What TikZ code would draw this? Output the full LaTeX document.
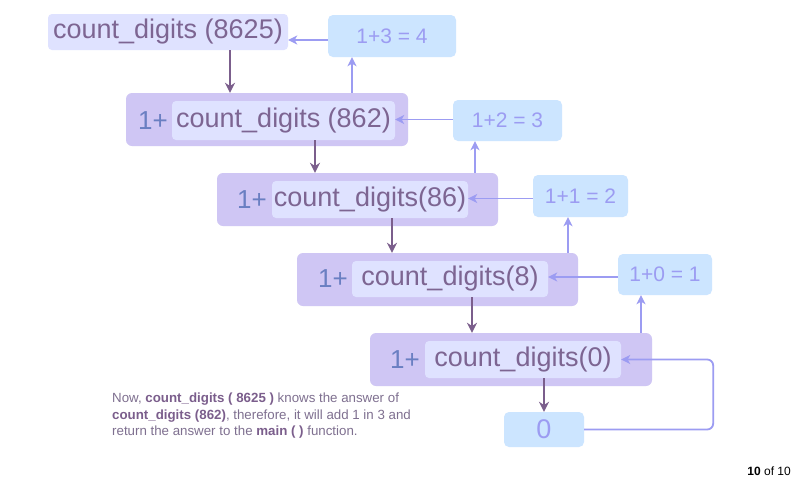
\documentclass[tikz,border=0pt]{standalone}
\usepackage{fontspec}
\setmainfont{Liberation Sans}
\usetikzlibrary{arrows.meta,calc}
\definecolor{cTimNgoai}{HTML}{CFC6F4}
\definecolor{cTimTrong}{HTML}{DFE2FF}
\definecolor{cXanhKq}{HTML}{CCE5FF}
\definecolor{cTenHam}{HTML}{7D6592}
\definecolor{cCong}{HTML}{6A7FC2}
\definecolor{cKetQua}{HTML}{9C9CF2}
\definecolor{cMuiDam}{HTML}{7B5E8C}
\definecolor{cChuGhi}{HTML}{7F7090}
\def\Ltop{count\_digits (8625)}
\def\Lcall{count\_digits (862)}
\def\Lcallb{count\_digits(86)}
\def\Lcallc{count\_digits(8)}
\def\Lcalld{count\_digits(0)}

\begin{document}
\begin{tikzpicture}[x=1pt, y=-1pt,
  hopngoai/.style={
    fill=cTimNgoai, rounded corners=6pt, inner sep=0pt,
    minimum width=281pt, minimum height=53pt
  },
  hoptrong/.style={
    fill=cTimTrong, rounded corners=4pt, inner sep=0pt,
    minimum width=196pt, minimum height=37pt,
    font=\fontsize{27}{29}\selectfont, text=cTenHam
  },
  hopcong/.style={
    inner sep=0pt, font=\fontsize{26}{29}\selectfont, text=cCong
  },
  hopkq/.style={
    fill=cXanhKq, rounded corners=5pt, inner sep=0pt,
    minimum height=41pt, font=\fontsize{21}{24}\selectfont, text=cKetQua
  },
  muidam/.style={draw=cMuiDam, line width=2.8pt, -{Stealth[length=10pt, width=10pt]}},
  muinhat/.style={draw=cKetQua, line width=1.8pt, -{Stealth[length=9pt, width=9pt, inset=2.5pt]}}
]

% ── Khung trang ──
\fill[white] (0,0) rectangle (793,480);
\useasboundingbox (0,0) rectangle (793,480);

% ── Loi goi dau tien ──
\node[hoptrong, minimum width=240pt, minimum height=36pt] (top) at (168,32) {\Ltop};

% ── Bon tang de quy: hop ngoai, hop trong, chu '1+' ──
\node[hopngoai, minimum width=282pt] (b2) at (267,119.5) {};
\node[hoptrong, minimum width=223pt, minimum height=39pt] (in2) at (283.5,120.5) {\Lcall};
\node[hopcong] (p2) at (153,120.5) {1+};

\node[hopngoai] (b3) at (357.5,199.5) {};
\node[hoptrong] (in3) at (370,199.5) {\Lcallb};
\node[hopcong] (p3) at (252,199.5) {1+};

\node[hopngoai] (b4) at (437.5,279.5) {};
\node[hoptrong, minimum height=36pt] (in4) at (450,279) {\Lcallc};
\node[hopcong] (p4) at (333,279) {1+};

\node[hopngoai, minimum width=282pt] (b5) at (511,359.5) {};
\node[hoptrong] (in5) at (523,359.5) {\Lcalld};
\node[hopcong] (p5) at (405,359.5) {1+};

% ── Hop ket qua (xanh nhat) ──
\node[hopkq, minimum width=128pt, minimum height=42pt] (r4) at (392,36) {1+3 = 4};
\node[hopkq, minimum width=109pt] (r3) at (507.5,120.5) {1+2 = 3};
\node[hopkq, minimum width=95pt, minimum height=42pt] (r2) at (580.5,196) {1+1 = 2};
\node[hopkq, minimum width=94pt] (r1) at (665,274.5) {1+0 = 1};
\node[hopkq, minimum width=80pt, minimum height=35pt, font=\fontsize{27}{28}\selectfont] (r0) at (544,429.5) {0};

% ── Mui ten goi xuong ──
\draw[muidam] ([xshift=62pt]top.south) -- ([xshift=62pt]top.south |- b2.north);
\draw[muidam] ([xshift=31.5pt]in2.south) -- ([xshift=31.5pt]in2.south |- b3.north);
\draw[muidam] ([xshift=22pt]in3.south) -- ([xshift=22pt]in3.south |- b4.north);
\draw[muidam] ([xshift=22pt]in4.south) -- ([xshift=22pt]in4.south |- b5.north);
\draw[muidam] (in5.south -| r0.north) -- (r0.north);

% ── Mui ten tra ket qua ve ──
\draw[muinhat] ([yshift=-4pt]r4.west) -- ([yshift=-4pt]r4.west -| top.east);
\draw[muinhat] ([xshift=-40pt]r4.south |- b2.north) -- ([xshift=-40pt]r4.south);
\draw[muinhat] ([yshift=1pt]r3.west) -- ([yshift=1pt]r3.west -| in2.east);
\draw[muinhat] ([xshift=-32.5pt]r3.south |- b3.north) -- ([xshift=-32.5pt]r3.south);
\draw[muinhat] ([yshift=-2.5pt]r2.west) -- ([yshift=-2.5pt]r2.west -| in3.east);
\draw[muinhat] ([xshift=-12.5pt]r2.south |- b4.north) -- ([xshift=-12.5pt]r2.south);
\draw[muinhat] ([yshift=-2.5pt]r1.west) -- ([yshift=-2.5pt]r1.west -| in4.east);
\draw[muinhat] ([xshift=-24pt]r1.south |- b5.north) -- ([xshift=-24pt]r1.south);
\draw[muinhat, rounded corners=6pt] (r0.east) -| ([xshift=92pt]in5.east) -- (in5.east);

% ── Ghi chu ──
\node[anchor=north west, align=left, inner sep=0pt, text=cChuGhi,
      font=\fontsize{13.3}{16.5}\selectfont] (ghichu) at (112,393)
  {Now, \textbf{\color{cMuiDam}count\_digits ( 8625 )} knows the answer of\\
   \textbf{\color{cMuiDam}count\_digits (862)}, therefore, it will add 1 in 3 and\\
   return the answer to the \textbf{\color{cMuiDam}main ( )} function.};

% ── So trang ──
\node[anchor=east, inner sep=0pt, font=\fontsize{12}{14}\selectfont] (trang) at (791,471)
  {\textbf{10} of 10};

\end{tikzpicture}
\end{document}
